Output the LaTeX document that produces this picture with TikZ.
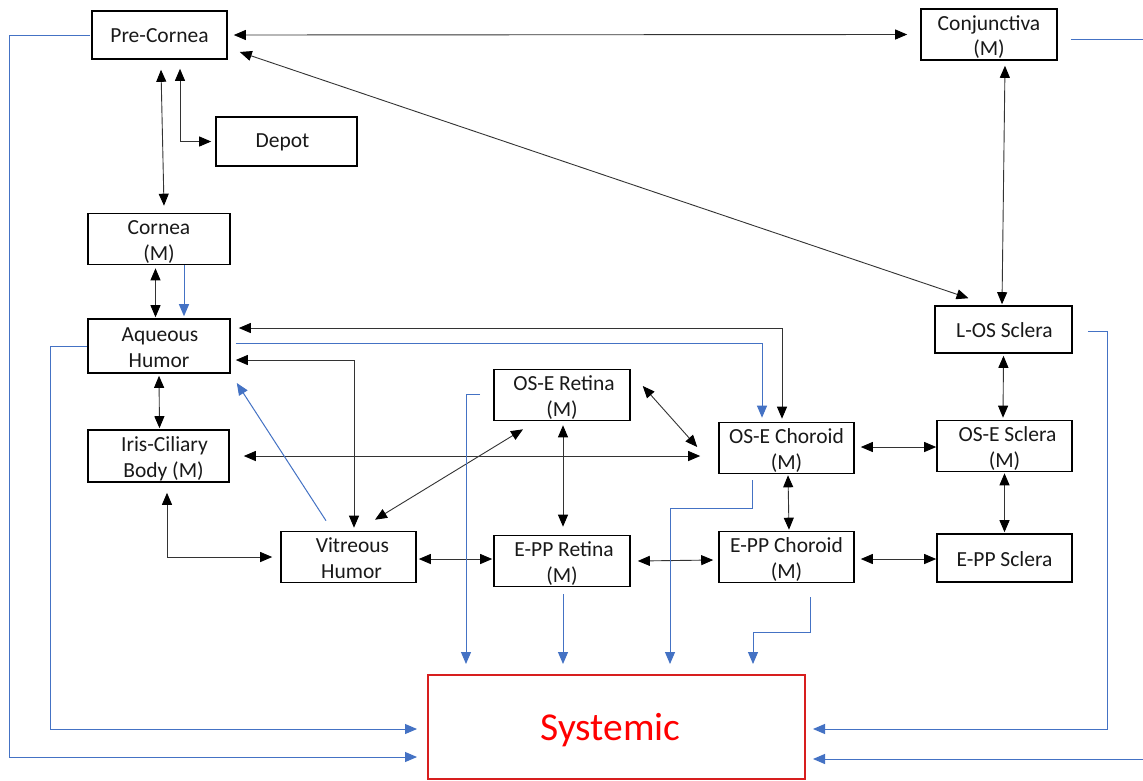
\documentclass[tikz,border=0pt]{standalone}
\usepackage{fontspec}
\setmainfont{Carlito}
\usetikzlibrary{arrows.meta,calc}
\definecolor{lnblue}{RGB}{68,114,196}
\definecolor{sysred}{RGB}{215,30,30}
\newcommand{\twol}[2]{\raisebox{-3.5pt}[\height][\depth]{\begin{tabular}{@{}c@{}}#1\\#2\end{tabular}}}
\newcommand{\onel}[1]{\raisebox{-1pt}[\height][\depth]{#1}}
\tikzset{
  box/.style={draw=black,line width=1.6pt,rectangle,inner sep=0pt,align=center,
    font=\fontsize{21.5}{25.5}\selectfont,text=black!90},
  bi/.style={line width=0.9pt,draw=black!80,
    {Triangle[length=12pt,width=10pt,fill=black,color=black]}-{Triangle[length=12pt,width=10pt,fill=black,color=black]}},
  bl/.style={line width=1pt,draw=lnblue,-{Triangle[length=12pt,width=10pt]}},
}
\begin{document}
\begin{tikzpicture}[x=1pt,y=-1pt]
\clip (0,0) rectangle (1143,780);
\fill[white] (0,0) rectangle (1143,780);
% nodes
\node[box,minimum width=135,minimum height=48] (pc) at (159.5,35) {\onel{Pre-Cornea}};
\node[box,minimum width=136,minimum height=49] (cj) at (989,34.5) {\twol{Conjunctiva}{(M)}};
\node[box,minimum width=141,minimum height=49] (dp) at (286.5,141.5) {\onel{\hspace*{-8pt}Depot}};
\node[box,minimum width=142,minimum height=50] (co) at (159,239) {\twol{Cornea}{(M)}};
\node[box,minimum width=142,minimum height=54] (aq) at (159,346) {\twol{\hspace*{2pt}Aqueous}{Humor}};
\node[box,minimum width=141,minimum height=52] (ic) at (158.5,456) {\twol{\hspace*{12pt}Iris-Ciliary}{\hspace*{10pt}Body (M)}};
\node[box,minimum width=135,minimum height=48] (vh) at (348.5,557) {\twol{\hspace*{8pt}Vitreous}{\hspace*{6pt}Humor}};
\node[box,minimum width=136,minimum height=48] (osr) at (562,395) {\twol{\hspace*{4pt}OS-E Retina}{(M)}};
\node[box,minimum width=136,minimum height=48] (epr) at (562,561) {\twol{\hspace*{4pt}E-PP Retina}{(M)}};
\node[box,minimum width=135,minimum height=48] (osc) at (786.5,448) {\twol{OS-E Choroid}{(M)}};
\node[box,minimum width=135,minimum height=48] (epc) at (786.5,557) {\twol{E-PP Choroid}{(M)}};
\node[box,minimum width=137,minimum height=47] (ls) at (1003.5,329.5) {\onel{\hspace*{2pt}L-OS Sclera}};
\node[box,minimum width=135,minimum height=48] (oss) at (1004.5,446) {\twol{\hspace*{6pt}OS-E Sclera}{(M)}};
\node[box,minimum width=135,minimum height=48] (eps) at (1004.5,558) {\onel{E-PP Sclera}};
\node[draw=sysred,line width=2pt,rectangle,inner sep=0pt,minimum width=377,minimum height=104,
  font=\fontsize{39.5}{42}\selectfont,text=red] (sys) at (616.5,727) {\raisebox{-3pt}[\height][\depth]{Systemic}\hspace*{12pt}};
% black bidirectional connectors
\draw[bi] ([xshift=6]pc.east) -- ([xshift=-13]cj.west);
\draw[bi] ([xshift=12,yshift=-17]pc.east) -- ([xshift=-35,yshift=7]ls.north);
\draw[bi] ([xshift=1.5,yshift=-10]pc.south) -- ([xshift=5,yshift=7]co.north);
\draw[bi] ([xshift=20.5,yshift=-9]pc.south) |- ([xshift=-4]dp.west);
\draw[bi] ([xshift=-3.5,yshift=-3]co.south) -- ([xshift=-3.5,yshift=1]co.south |- aq.north);
\draw[bi] ([yshift=-2]aq.south) -- ([xshift=0.5,yshift=1]aq.south |- ic.north);
\draw[bi] ([xshift=8.5,yshift=-10]ic.south) |- ([xshift=-8]vh.west);
\draw[bi] ([xshift=8,yshift=18]aq.east) -| ([xshift=-4.5,yshift=3]osc.north);
\draw[bi] ([xshift=5,yshift=-14]aq.east) -| ([xshift=5.5,yshift=3]vh.north);
\draw[bi] ([xshift=14]ic.east) -- ([xshift=-18,yshift=-8]osc.west);
\draw[bi] ([xshift=26.5,yshift=11]vh.north) -- ([xshift=-39,yshift=-8]osr.south);
\draw[bi] ([xshift=12,yshift=9]osr.east) -- ([xshift=-21,yshift=1]osc.west);
\draw[bi] ([xshift=1,yshift=-4]osr.south) -- ([xshift=1,yshift=8]epr.north);
\draw[bi] ([xshift=2,yshift=-2]vh.east) -- ([xshift=-1,yshift=2]epr.west);
\draw[bi] ([xshift=7]epr.east) -- ([xshift=-5,yshift=-3]epc.west);
\draw[bi] ([xshift=1.5,yshift=-1]osc.south) -- ([xshift=2.5,yshift=1]epc.north);
\draw[bi] ([xshift=6,yshift=1]osc.east) -- ([yshift=-1]oss.west);
\draw[bi] ([xshift=6,yshift=-2]epc.east) -- ([yshift=-1]eps.west);
\draw[bi] ([yshift=-2]ls.south) -- ([xshift=-1.5,yshift=2]oss.north);
\draw[bi] ([yshift=-1]oss.south) -- ([yshift=1]eps.north);
\draw[bi] ([xshift=16,yshift=-5]cj.south) -- ([xshift=-1.5,yshift=1]ls.north);
% blue connectors
\draw[bl] ([xshift=-1]pc.west) -- ++(-81,0) |- ([xshift=-10,yshift=-30]sys.west);
\draw[bl] (aq.west) -- ++(-37,0) |- ([xshift=-10,yshift=-2]sys.west);
\draw[bl] ([xshift=25]co.south) -- ([xshift=25,yshift=2]co.south |- aq.north);
\draw[bl] ([xshift=5,yshift=3]aq.east) -| ([xshift=-24.5,yshift=4]osc.north);
\draw[bl] ([xshift=-22.5,yshift=10]vh.north) -- ([xshift=6,yshift=-37]aq.east);
\draw[bl] ([xshift=-13,yshift=1]osr.west) -| ([xshift=-150.5,yshift=10]sys.north);
\draw[bl] ([xshift=1,yshift=-7]epr.south) -- ([xshift=-53.5,yshift=10]sys.north);
\draw[bl] ([xshift=-34.5,yshift=-6]osc.south) -- ++(0,28) -| ([xshift=53.5,yshift=10]sys.north);
\draw[bl] ([xshift=23.5,yshift=-14]epc.south) -- ++(0,35) -| ([xshift=136.5,yshift=10]sys.north);
\draw[bl] ([xshift=15,yshift=-1.5]ls.east) -- ++(20,0) |- ([xshift=7,yshift=-2]sys.east);
\draw[bl] ([xshift=13,yshift=-4.5]cj.east) -- ++(100,0) |- ([xshift=7,yshift=-32]sys.east);
\end{tikzpicture}
\end{document}
